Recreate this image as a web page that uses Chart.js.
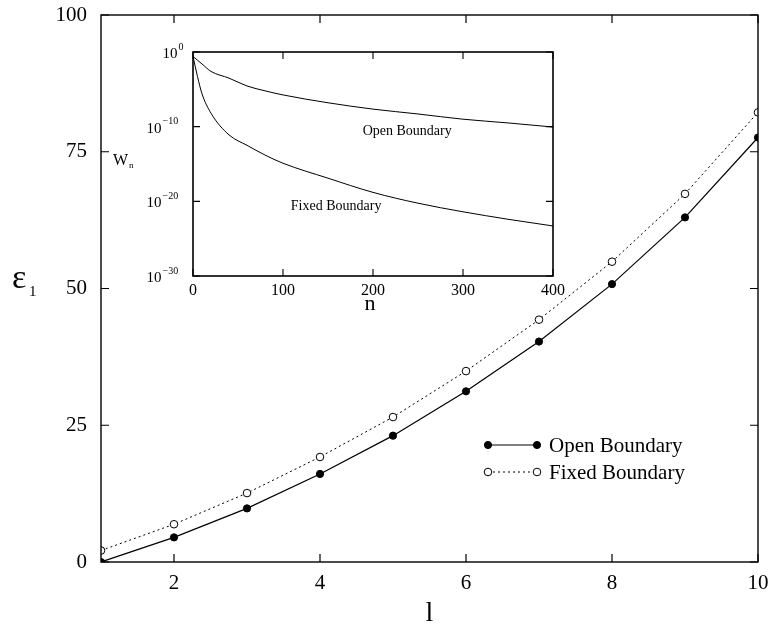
<!DOCTYPE html>
<html>
<head>
<meta charset="utf-8">
<script src="https://cdn.jsdelivr.net/npm/chart.js@4.4.1/dist/chart.umd.min.js"></script>
<style>
html, body { margin: 0; padding: 0; background: #fff; }
#wrap { position: relative; width: 771px; height: 625px; }
#mainChart { position: absolute; left: 0; top: 0; }
#insetChart { position: absolute; left: 100px; top: 40px; }
</style>
</head>
<body>
<div id="wrap">
  <canvas id="mainChart" width="771" height="625"></canvas>
  <canvas id="insetChart" width="480" height="290"></canvas>
</div>
<script>
// main plot: lowest level energy vs l
const lValues = [1, 2, 3, 4, 5, 6, 7, 8, 9, 10];
const openEnergy = [0, 4.5, 9.8, 16.1, 23.1, 31.2, 40.3, 50.8, 63.0, 77.6];
const fixedEnergy = [2.1, 6.9, 12.6, 19.2, 26.5, 34.9, 44.3, 54.9, 67.3, 82.2];
const mainXTicks = [2, 4, 6, 8, 10];
const mainYTicks = [0, 25, 50, 75, 100];

// inset: W_n on a log axis (values given as log10)
const nValues = [0, 5, 10, 20, 40, 60, 80, 100, 150, 200, 250, 300, 350, 400];
const openLogW = [-0.6, -1.1, -1.6, -2.6, -3.5, -4.55, -5.2, -5.75, -6.8, -7.65, -8.3, -9.0, -9.5, -10.05];
const fixedLogW = [-0.6, -3.3, -5.6, -8.2, -11.1, -12.5, -13.8, -14.9, -16.9, -18.8, -20.25, -21.4, -22.4, -23.3];
const insetXTicks = [0, 100, 200, 300, 400];
const insetYExp = [0, -10, -20, -30];

Chart.defaults.font.family = "'Liberation Serif', 'Times New Roman', serif";
Chart.defaults.color = '#000';

const serif = "'Liberation Serif', 'Times New Roman', serif";

// box around the plot with inward ticks on all four sides
const boxTicks = {
  id: 'boxTicks',
  afterDraw(chart, args, o) {
    const ctx = chart.ctx, a = chart.chartArea;
    const xs = chart.scales.x, ys = chart.scales.y;
    ctx.save();
    ctx.strokeStyle = '#000';
    ctx.lineWidth = o.tickWidth;
    ctx.beginPath();
    xs.ticks.forEach(t => {
      const p = xs.getPixelForValue(t.value);
      ctx.moveTo(p, a.bottom); ctx.lineTo(p, a.bottom - o.len);
      ctx.moveTo(p, a.top); ctx.lineTo(p, a.top + o.len);
    });
    ys.ticks.forEach(t => {
      const p = ys.getPixelForValue(t.value);
      ctx.moveTo(a.left, p); ctx.lineTo(a.left + o.len, p);
      ctx.moveTo(a.right, p); ctx.lineTo(a.right - o.len, p);
    });
    ctx.stroke();
    ctx.lineWidth = o.boxWidth;
    ctx.strokeRect(a.left, a.top, a.right - a.left, a.bottom - a.top);
    ctx.restore();
  }
};

function marker(ctx, ds, x, y) {
  ctx.beginPath();
  ctx.setLineDash([]);
  ctx.arc(x, y, ds.pointRadius, 0, Math.PI * 2);
  ctx.fillStyle = ds.pointBackgroundColor;
  ctx.fill();
  ctx.lineWidth = ds.pointBorderWidth;
  ctx.strokeStyle = ds.pointBorderColor;
  ctx.stroke();
}

// axis titles and legend for the main plot
const mainExtras = {
  id: 'mainExtras',
  afterDraw(chart, args, o) {
    const ctx = chart.ctx, a = chart.chartArea;
    ctx.save();
    ctx.fillStyle = '#000';
    ctx.textAlign = 'left';
    ctx.textBaseline = 'alphabetic';
    ctx.font = '34px ' + serif;
    ctx.fillText('ε', 12, 288);
    ctx.font = '15px ' + serif;
    ctx.fillText('1', 29, 296);
    ctx.font = '28px ' + serif;
    ctx.textAlign = 'center';
    ctx.fillText('l', (a.left + a.right) / 2, 621);

    chart.data.datasets.forEach((ds, i) => {
      const y = o.y0 + i * o.dy;
      ctx.beginPath();
      ctx.setLineDash(ds.borderDash || []);
      ctx.lineWidth = ds.borderWidth;
      ctx.strokeStyle = ds.borderColor;
      ctx.moveTo(o.x0, y); ctx.lineTo(o.x1, y);
      ctx.stroke();
      marker(ctx, ds, o.x0, y);
      marker(ctx, ds, o.x1, y);
      ctx.fillStyle = '#000';
      ctx.font = '21px ' + serif;
      ctx.textAlign = 'left';
      ctx.textBaseline = 'middle';
      ctx.fillText(ds.label, o.textX, y + 1);
    });
    ctx.restore();
  }
};

function noPad(s) {
  s.paddingTop = 0;
  s.paddingBottom = 0;
  s.paddingLeft = 0;
  s.paddingRight = 0;
}

new Chart('mainChart', {
  type: 'line',
  data: {
    datasets: [
      {
        label: 'Open Boundary',
        data: lValues.map((l, i) => ({ x: l, y: openEnergy[i] })),
        borderColor: '#000',
        borderWidth: 1.2,
        pointRadius: 3.6,
        pointBackgroundColor: '#000',
        pointBorderColor: '#000',
        pointBorderWidth: 1,
        tension: 0
      },
      {
        label: 'Fixed Boundary',
        data: lValues.map((l, i) => ({ x: l, y: fixedEnergy[i] })),
        borderColor: '#000',
        borderWidth: 1,
        borderDash: [2, 3],
        pointRadius: 3.8,
        pointBackgroundColor: '#fff',
        pointBorderColor: '#000',
        pointBorderWidth: 1,
        tension: 0
      }
    ]
  },
  options: {
    responsive: false,
    animation: false,
    layout: { padding: { top: 15, right: 13, left: 0, bottom: 0 } },
    plugins: {
      legend: { display: false },
      tooltip: { enabled: false },
      boxTicks: { len: 8, tickWidth: 1.2, boxWidth: 1.4 },
      mainExtras: { x0: 488, x1: 537, textX: 549, y0: 445, dy: 27 }
    },
    scales: {
      x: {
        type: 'linear',
        min: 1,
        max: 10,
        afterBuildTicks: s => { s.ticks = mainXTicks.map(v => ({ value: v })); },
        afterFit: s => { s.height = 63; noPad(s); },
        grid: { display: false, drawTicks: false },
        border: { display: false },
        ticks: { font: { size: 21 }, padding: 9, maxRotation: 0 }
      },
      y: {
        min: 0,
        max: 100,
        afterBuildTicks: s => { s.ticks = mainYTicks.map(v => ({ value: v })); },
        afterFit: s => { s.width = 101; noPad(s); },
        grid: { display: false, drawTicks: false },
        border: { display: false },
        ticks: { font: { size: 21 }, padding: 14 }
      }
    }
  },
  plugins: [boxTicks, mainExtras]
});

// inset labels: powers of ten, W_n, n and curve names
const insetExtras = {
  id: 'insetExtras',
  afterDraw(chart, args, o) {
    const ctx = chart.ctx, a = chart.chartArea;
    const xs = chart.scales.x, ys = chart.scales.y;
    ctx.save();
    ctx.fillStyle = '#000';
    ctx.textBaseline = 'middle';
    ctx.textAlign = 'left';
    ys.ticks.forEach(t => {
      const p = ys.getPixelForValue(t.value);
      const e = String(Math.round(Math.log10(t.value))).replace('-', '\u2212');
      // label width is taken as if the exponent were full size
      ctx.font = '15px ' + serif;
      const full = ctx.measureText('10' + e).width;
      const x0 = a.left - 8 - full;
      ctx.fillText('10', x0, p + 2);
      const w10 = ctx.measureText('10').width;
      ctx.font = '10px ' + serif;
      ctx.fillText(e, x0 + w10 + 1, p - 5);
    });
    ctx.textAlign = 'left';
    ctx.textBaseline = 'alphabetic';
    ctx.font = '16px ' + serif;
    ctx.fillText('W', 13, 125);
    ctx.font = '9px ' + serif;
    ctx.fillText('n', 29, 128);
    ctx.font = '22px ' + serif;
    ctx.textAlign = 'center';
    ctx.fillText('n', (a.left + a.right) / 2 - 3, 270);
    ctx.font = '14px ' + serif;
    ctx.textBaseline = 'middle';
    o.notes.forEach(nt => {
      ctx.fillText(nt.text, xs.getPixelForValue(nt.n), ys.getPixelForValue(Math.pow(10, nt.logW)));
    });
    ctx.restore();
  }
};

new Chart('insetChart', {
  type: 'line',
  data: {
    datasets: [
      {
        label: 'Open Boundary',
        data: nValues.map((n, i) => ({ x: n, y: Math.pow(10, openLogW[i]) })),
        borderColor: '#000',
        borderWidth: 1,
        pointRadius: 0,
        cubicInterpolationMode: 'monotone'
      },
      {
        label: 'Fixed Boundary',
        data: nValues.map((n, i) => ({ x: n, y: Math.pow(10, fixedLogW[i]) })),
        borderColor: '#000',
        borderWidth: 1,
        pointRadius: 0,
        cubicInterpolationMode: 'monotone'
      }
    ]
  },
  options: {
    responsive: false,
    animation: false,
    layout: { padding: { top: 12, right: 27, left: 0, bottom: 0 } },
    plugins: {
      legend: { display: false },
      tooltip: { enabled: false },
      boxTicks: { len: 7, tickWidth: 1.1, boxWidth: 1.6 },
      insetExtras: {
        notes: [
          { text: 'Open Boundary', n: 238, logW: -10.6 },
          { text: 'Fixed Boundary', n: 159, logW: -20.7 }
        ]
      }
    },
    scales: {
      x: {
        type: 'linear',
        min: 0,
        max: 400,
        afterBuildTicks: s => { s.ticks = insetXTicks.map(v => ({ value: v })); },
        afterFit: s => { s.height = 54; noPad(s); },
        grid: { display: false, drawTicks: false },
        border: { display: false },
        ticks: { font: { size: 16 }, padding: 5, maxRotation: 0 }
      },
      y: {
        type: 'logarithmic',
        min: 1e-30,
        max: 1,
        afterBuildTicks: s => { s.ticks = insetYExp.map(e => ({ value: Math.pow(10, e) })); },
        afterFit: s => { s.width = 93; noPad(s); },
        grid: { display: false, drawTicks: false },
        border: { display: false },
        ticks: { display: false }
      }
    }
  },
  plugins: [boxTicks, insetExtras]
});
</script>
</body>
</html>
